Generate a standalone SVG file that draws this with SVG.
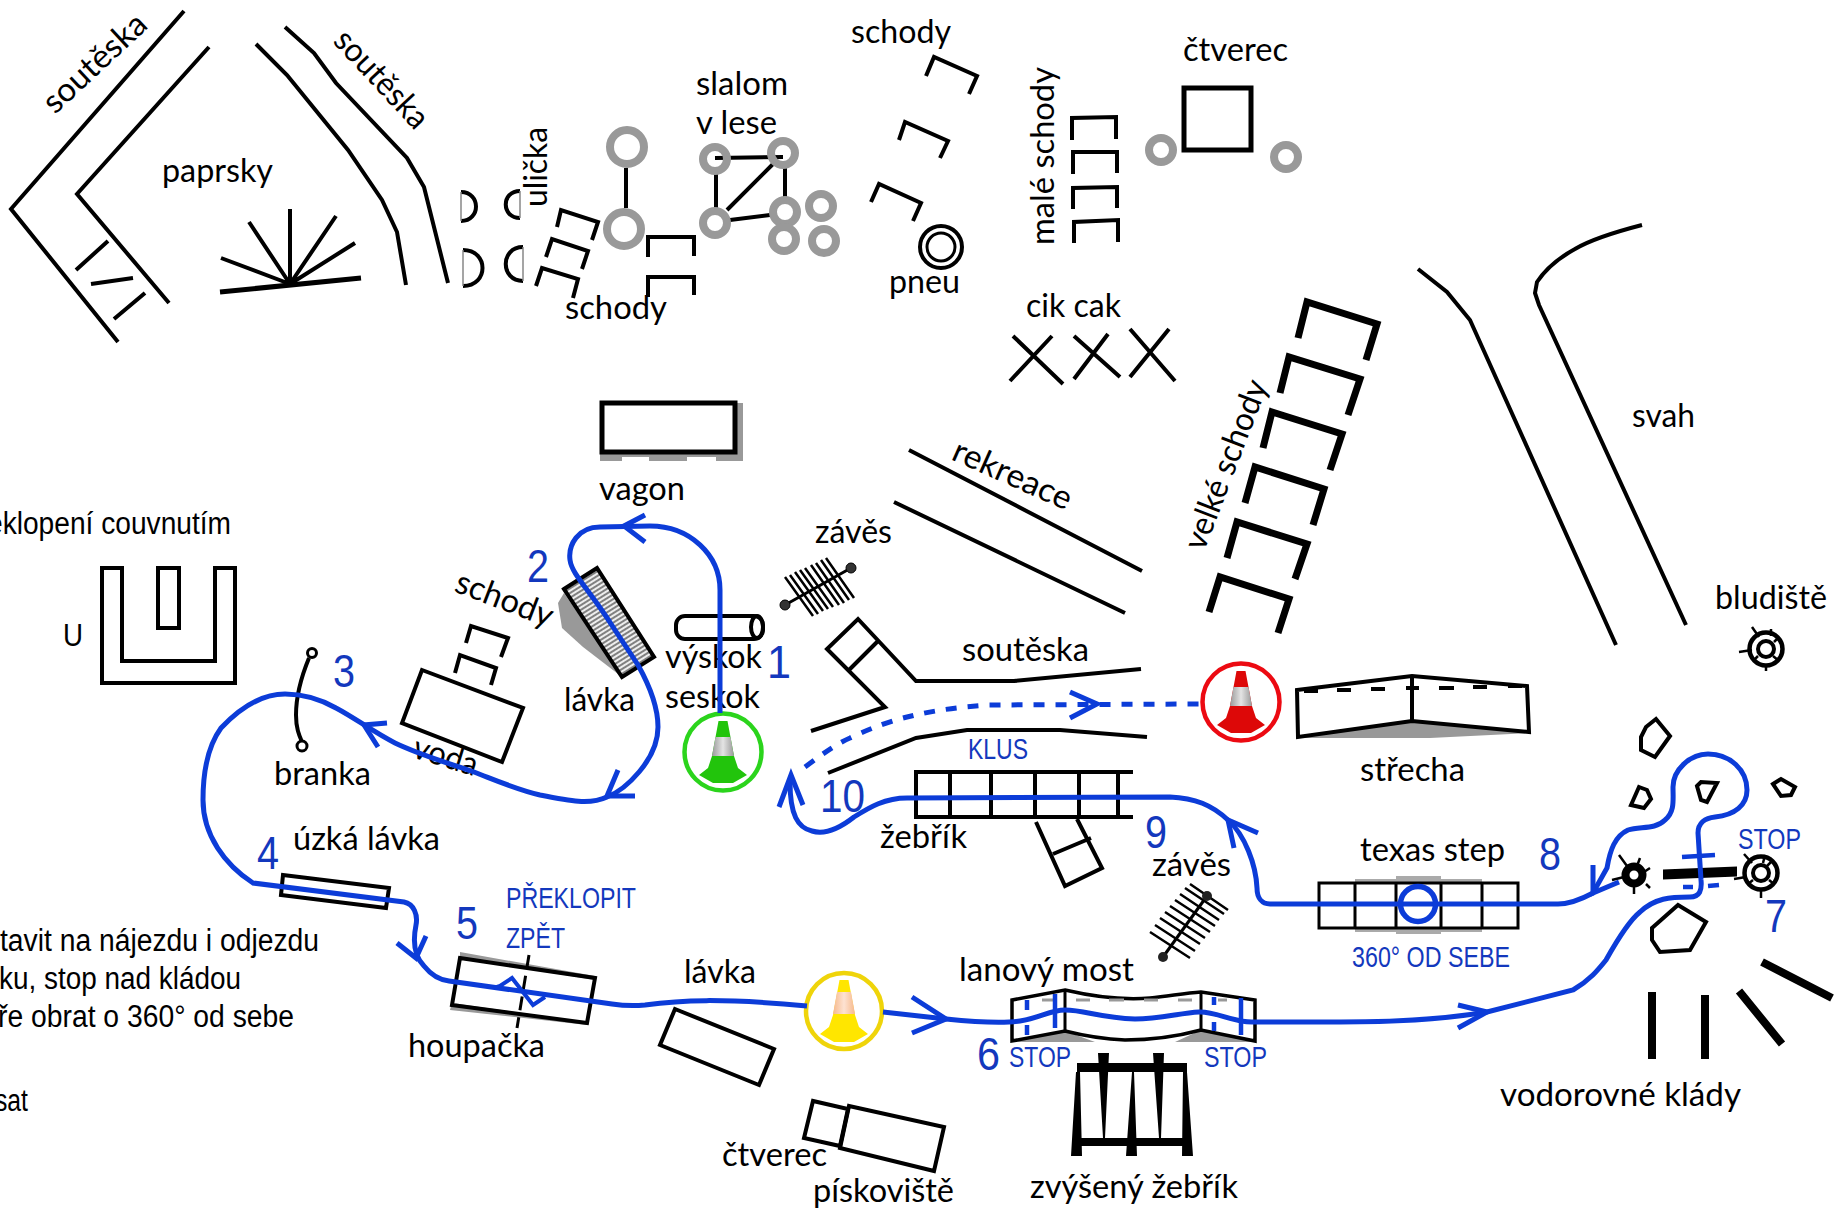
<svg xmlns="http://www.w3.org/2000/svg" width="1835" height="1210" viewBox="0 0 1835 1210">
<style>
.l{fill:none;stroke:#000;stroke-width:4;stroke-linejoin:miter}
.th{fill:none;stroke:#000;stroke-width:3}
.h{fill:none;stroke:#000;stroke-width:7}
.w{fill:#fff;stroke:#000;stroke-width:4}
.g{fill:none;stroke:#999;stroke-width:8}
.t{font-family:"Lato","Carlito",sans-serif;font-size:33px;fill:#000}
.a{font-family:"Liberation Sans",Arial,sans-serif;font-size:31px;fill:#000}
.b{font-family:"Liberation Sans",Arial,sans-serif;font-size:29px;fill:#1338bd}
.n{font-family:"Liberation Sans",Arial,sans-serif;font-size:46px;fill:#1338bd}
.r{fill:none;stroke:#0c3cd8;stroke-width:5;stroke-linecap:butt}
.rt{fill:none;stroke:#0c3cd8;stroke-width:4}
</style>
<defs>
<pattern id="hatch" patternUnits="userSpaceOnUse" width="4" height="4" patternTransform="rotate(-32)"><rect width="4" height="4" fill="#eee"/><rect width="4" height="2" fill="#808080"/></pattern>
<linearGradient id="band"><stop offset="0" stop-color="#999"/><stop offset=".5" stop-color="#e4e4e4"/><stop offset="1" stop-color="#999"/></linearGradient>
<linearGradient id="bandY"><stop offset="0" stop-color="#f6b98c"/><stop offset=".5" stop-color="#fde2d2"/><stop offset="1" stop-color="#f6b98c"/></linearGradient>
<path id="cone" d="M-4.500,-31L4.500,-31L11,4L15,16L24,23L10,31L-10,31L-24,23L-15,16L-11,4Z"/>
</defs>
<rect width="1835" height="1210" fill="#fff"/>

<g id="soutska-left"><path class="l" d="M184,11L11,209L118,342"/><path class="l" d="M209,47L77,194L169,303"/><path class="l" d="M108,241L76,270M91,284L133,278M145,293L114,319"/><text class="t" transform="translate(55,115) rotate(-43)" textLength="129" lengthAdjust="spacingAndGlyphs">soutěska</text></g>
<g id="paprsky"><path class="l" d="M220,292L361,278" style="stroke-width:5"/><path class="l" d="M290,284L221,258M290,284L249,222M290,284L290,209M290,284L336,216M290,284L355,243"/><text class="t" x="162" y="182" textLength="111" lengthAdjust="spacingAndGlyphs">paprsky</text></g>
<g id="soutska-right"><path class="l" d="M256,44L287,75L348,150L382,200L397,232L406,285"/><path class="l" d="M285,27L314,53L336,83L407,158L424,187L448,283"/><text class="t" transform="translate(332,42) rotate(47)" textLength="122" lengthAdjust="spacingAndGlyphs">soutěska</text></g>
<g id="ulicka"><path class="l" d="M461,192C481,192 481,221 461,221"/><path class="l" d="M463,250C489,250 489,286 463,286"/><path class="l" d="M520,191C501,191 501,218 520,218"/><path class="l" d="M523,247C500,247 500,281 523,281"/><path d="M461,192V221M463,250V286M520,191V218M523,247V281" fill="none" stroke="#888" stroke-width="1.500"/><text class="t" transform="translate(547,207) rotate(-90)" textLength="80" lengthAdjust="spacingAndGlyphs">ulička</text></g>
<g id="schody-a"><path class="l" d="M557,227L561,210L598,222L592,240M546,257L552,239L588,251L582,269M536,286L542,268L578,279L573,298"/><path class="l" d="M648,257V237H694V256M648,297V277H694V295"/><text class="t" x="565" y="319" textLength="102" lengthAdjust="spacingAndGlyphs">schody</text></g>
<g id="slalom"><path class="l" d="M626,168V208M715,158L783,157M716,173V208M727,210L774,163M785,167V197M730,220L770,215"/>
<circle class="g" cx="627" cy="147" r="17"/><circle class="g" cx="624" cy="229" r="17"/>
<circle class="g" cx="715" cy="159" r="12"/><circle class="g" cx="783" cy="153" r="12"/><circle class="g" cx="715" cy="223" r="12"/><circle class="g" cx="785" cy="212" r="12"/><circle class="g" cx="784" cy="239" r="12"/><circle class="g" cx="821" cy="206" r="12"/><circle class="g" cx="824" cy="241" r="12"/>
<text class="t" x="696" y="95" textLength="92" lengthAdjust="spacingAndGlyphs">slalom</text><text class="t" x="696" y="134" textLength="81" lengthAdjust="spacingAndGlyphs">v lese</text></g>
<g id="schody-b"><path class="l" d="M926,76L934,57L977,76L969,94M899,140L905,122L948,141L940,158M871,202L879,184L921,203L913,221"/><text class="t" x="851" y="43" textLength="100" lengthAdjust="spacingAndGlyphs">schody</text></g>
<g id="pneu"><circle class="l" cx="941" cy="247" r="21"/><circle class="th" cx="941" cy="247" r="14"/><text class="t" x="889" y="293" textLength="71" lengthAdjust="spacingAndGlyphs">pneu</text></g>
<g id="male-schody"><path class="l" d="M1072,140V118L1116,117V139M1073,174V152L1117,152V173M1073,209V188L1117,187V208M1074,243V222L1118,220V242"/><text class="t" transform="translate(1054,245) rotate(-90)" textLength="178" lengthAdjust="spacingAndGlyphs">malé schody</text></g>
<g id="ctverec"><rect class="l" x="1184" y="88" width="67" height="62" style="stroke-width:5"/><circle class="g" cx="1161" cy="150" r="12"/><circle class="g" cx="1286" cy="157" r="12"/><text class="t" x="1183" y="61" textLength="105" lengthAdjust="spacingAndGlyphs">čtverec</text></g>
<g id="cikcak"><path class="l" d="M1013,336L1063,384M1052,336L1010,381M1074,336L1120,377M1108,334L1074,379M1130,329L1175,381M1169,329L1130,377"/><text class="t" x="1026" y="317" textLength="95" lengthAdjust="spacingAndGlyphs">cik cak</text></g>
<g id="velke-schody"><path class="h" d="M1298,338L1307,302L1377,324L1366,360M1280,393L1289,357L1360,379L1348,415M1263,448L1272,412L1342,434L1330,470M1245,503L1255,467L1324,489L1313,525M1227,558L1237,522L1307,544L1295,579M1209,612L1220,577L1289,599L1278,633"/><text class="t" transform="translate(1204,552) rotate(-69)" textLength="179" lengthAdjust="spacingAndGlyphs">velké schody</text></g>
<g id="svah"><path class="l" d="M1418,269L1447,292L1470,320L1616,645"/><path class="l" d="M1642,225C1615,232 1590,240 1575,249C1555,260 1545,270 1537,282L1535,293L1539,305L1686,625"/><text class="t" x="1632" y="427" textLength="63" lengthAdjust="spacingAndGlyphs">svah</text></g>
<g id="rekreace"><path class="l" d="M909,450L1142,571M894,502L1125,613"/><text class="t" transform="translate(950,459) rotate(24)" textLength="127" lengthAdjust="spacingAndGlyphs">rekreace</text></g>
<g id="vagon"><path d="M735,403H743V461H716V457H687V461H649V457H622V461H600V452H735Z" fill="#999"/><rect class="l" x="602" y="403" width="133" height="49" style="stroke-width:5"/><text class="t" x="599" y="500" textLength="86" lengthAdjust="spacingAndGlyphs">vagon</text></g>
<g id="zaves-a"><path class="th" d="M785,605L851,568"/><path class="th" d="M785,577L813,616M790,575L818,614M795,572L823,611M800,570L828,609M805,568L833,607M811,565L839,605M816,563L844,603M821,560L849,600M826,558L854,598" style="stroke-width:2.500"/><circle cx="785" cy="605" r="5" stroke="#000" fill="#333"/><circle cx="851" cy="568" r="5" stroke="#000" fill="#333"/><text class="t" x="815" y="543" textLength="77" lengthAdjust="spacingAndGlyphs">závěs</text></g>
<g id="soutska-mid"><path class="l" d="M877,642L849,670M811,731L885,707L827,649L858,619L916,681L1014,681L1141,669"/><path class="l" d="M828,773L916,738L967,730L1060,730L1147,737"/><text class="t" x="962" y="661" textLength="127" lengthAdjust="spacingAndGlyphs">soutěska</text></g>
<g id="vyskok"><rect class="l" x="676" y="616" width="87" height="23" rx="9"/><ellipse class="l" cx="757" cy="627" rx="6" ry="11"/><text class="t" x="665" y="668" textLength="97" lengthAdjust="spacingAndGlyphs">výskok</text><text class="t" x="665" y="708" textLength="95" lengthAdjust="spacingAndGlyphs">seskok</text></g>
<g id="lavka-sikma"><path d="M564,593L558,603L562,628L583,647L622,677Z" fill="#999"/><path d="M564,589L597,568L654,657L622,677Z" fill="url(#hatch)" stroke="#000" stroke-width="4"/><text class="t" x="564" y="711" textLength="71" lengthAdjust="spacingAndGlyphs">lávka</text></g>
<g id="schody-c"><path class="l" d="M466,643L471,626L508,638L501,657M455,673L460,655L496,668L491,685"/><text class="t" transform="translate(453,591) rotate(21)" textLength="102" lengthAdjust="spacingAndGlyphs">schody</text></g>
<g id="voda"><path class="w" d="M422,670L523,708L502,762L402,723Z"/><text class="t" transform="translate(411,757) rotate(17)" textLength="66" lengthAdjust="spacingAndGlyphs">voda</text></g>
<g id="u"><path class="l" d="M102,568H122V661H215V568H235V683H102Z"/><rect class="l" x="158" y="568" width="21" height="60"/><text class="a" x="63" y="646" textLength="20" lengthAdjust="spacingAndGlyphs">U</text></g>
<g id="preklopeni"><text class="a" x="-13" y="534" textLength="244" lengthAdjust="spacingAndGlyphs">eklopení couvnutím</text></g>
<g id="branka"><path class="l" d="M309,658C302,675 296,695 296,715C296,728 299,735 302,742"/><circle cx="312" cy="653" r="4.500" fill="#fff" stroke="#000" stroke-width="3"/><circle cx="302" cy="746" r="5" fill="#fff" stroke="#000" stroke-width="3"/><text class="t" x="274" y="785" textLength="97" lengthAdjust="spacingAndGlyphs">branka</text></g>
<g id="uzka-lavka"><path class="l" d="M283,875L389,888L386,908L281,895Z"/><text class="t" x="293" y="850" textLength="147" lengthAdjust="spacingAndGlyphs">úzká lávka</text></g>
<g id="poznamky"><text class="a" x="0" y="951" textLength="319" lengthAdjust="spacingAndGlyphs">tavit na nájezdu i odjezdu</text><text class="a" x="-1" y="989" textLength="242" lengthAdjust="spacingAndGlyphs">ku, stop nad kládou</text><text class="a" x="-2" y="1027" textLength="296" lengthAdjust="spacingAndGlyphs">ře obrat o 360° od sebe</text><text class="a" x="-5" y="1111" textLength="33" lengthAdjust="spacingAndGlyphs">sat</text></g>
<g id="houpacka"><path d="M460,952L595,976L595,980L460,958ZM450,1010L452,1003L587,1022L587,1025Z" fill="#999"/><path class="l" d="M460,958L595,978L587,1023L452,1005Z"/><path class="th" d="M529,955L517,1028" stroke-dasharray="14 7"/><text class="t" x="408" y="1057" textLength="137" lengthAdjust="spacingAndGlyphs">houpačka</text></g>
<g id="lavka-dolni"><path class="l" d="M675,1009L774,1049L759,1085L660,1045Z"/><text class="t" x="684" y="983" textLength="72" lengthAdjust="spacingAndGlyphs">lávka</text></g>
<g id="piskoviste"><path class="l" d="M813,1101L804,1138L840,1146L848,1109Z"/><path class="l" d="M849,1106L944,1127L934,1171L840,1148Z"/><text class="t" x="722" y="1166" textLength="105" lengthAdjust="spacingAndGlyphs">čtverec</text><text class="t" x="813" y="1202" textLength="141" lengthAdjust="spacingAndGlyphs">pískoviště</text></g>
<g id="lanovy-most"><path d="M1012,1042L1065,1031L1095,1042ZM1175,1042L1201,1030L1255,1042Z" fill="#999"/><path class="l" d="M1012,1000L1065,990C1095,997 1125,1000 1150,998C1170,996 1185,993 1201,992L1255,1000V1041L1201,1030C1175,1037 1150,1040 1125,1040C1100,1039 1085,1036 1065,1031L1012,1041Z" style="stroke-width:3.500"/><path class="th" d="M1065,990V1031M1201,992V1030"/><path d="M1042,1000H1054M1076,1000H1090M1109,1000H1124M1144,1000H1158M1178,1000H1192M1218,1000H1227" stroke="#999" stroke-width="3" fill="none"/><text class="t" x="959" y="981" textLength="175" lengthAdjust="spacingAndGlyphs">lanový most</text></g>
<g id="zvyseny-zebrik"><path d="M1077,1063H1187V1072H1077ZM1077,1138H1187V1146H1077ZM1098,1053H1109L1105,1138H1103ZM1153,1053H1164L1161,1138H1159ZM1076,1072H1080L1082,1156H1071ZM1183,1072H1187L1193,1156H1182ZM1132,1072H1134L1137,1156H1126Z" fill="#000"/><text class="t" x="1030" y="1198" textLength="208" lengthAdjust="spacingAndGlyphs">zvýšený žebřík</text></g>
<g id="zebrik"><path class="l" d="M1133,772H916V817H1133M950,772V817M991,772V817M1035,772V817M1079,772V817M1118,772V817"/><path class="l" d="M1036,822L1065,886L1102,868L1077,819M1053,854L1091,838"/><text class="t" x="880" y="848" textLength="87" lengthAdjust="spacingAndGlyphs">žebřík</text></g>
<g id="zaves-b"><path class="th" d="M1163,957L1207,896"/><path class="th" d="M1150,932L1190,958M1155,925L1195,951M1160,918L1200,944M1165,912L1205,938M1170,906L1210,932M1175,900L1215,926M1180,894L1219,920M1185,888L1224,914M1190,884L1228,910" style="stroke-width:2.500"/><circle cx="1163" cy="957" r="5" fill="#222"/><circle cx="1207" cy="896" r="5" fill="#222"/><text class="t" x="1152" y="876" textLength="79" lengthAdjust="spacingAndGlyphs">závěs</text></g>
<g id="strecha"><path d="M1298,738L1412,721L1529,733L1430,738Z" fill="#999"/><path class="l" d="M1297,690L1412,676L1527,686L1529,732L1412,721L1298,737Z"/><path class="l" d="M1412,676V721"/><path d="M1304,691H1318M1337,690H1351M1371,689H1385M1406,688H1419M1439,688H1454M1473,687H1487M1508,686H1522" stroke="#000" stroke-width="4" fill="none"/><text class="t" x="1360" y="781" textLength="105" lengthAdjust="spacingAndGlyphs">střecha</text></g>
<g id="texas-step"><rect x="1355" y="879" width="127" height="53" fill="#aaa"/><rect x="1396" y="876" width="45" height="58" fill="#aaa"/><rect x="1319" y="883" width="199" height="45" fill="#fff" stroke="#000" stroke-width="3"/><path class="th" d="M1355,883V928M1396,883V928M1441,883V928M1482,883V928"/><text class="t" x="1360" y="861" textLength="145" lengthAdjust="spacingAndGlyphs">texas step</text></g>
<g id="kameny"><path class="l" d="M1656,719L1670,736L1655,757L1641,750L1641,737L1646,727Z"/><path class="l" d="M1639,787L1647,790L1651,799L1644,808L1631,805Z"/><path class="l" d="M1697,786L1701,782L1717,783L1707,802L1701,800Z"/><path class="l" d="M1773,784L1781,779L1795,787L1791,795L1781,796Z"/><path class="l" d="M1652,928L1678,905L1706,922L1690,950L1660,952L1652,940Z"/></g>
<g id="tyre-a"><circle cx="1634" cy="875" r="8.500" fill="#fff" stroke="#000" stroke-width="8"/><path class="th" d="M1619,855L1627,866M1640,858L1637,866M1650,868L1644,872M1612,880L1624,877M1634,884V894M1646,884L1650,888" style="stroke-width:2.500"/></g>
<g id="tyre-b"><circle class="l" cx="1761" cy="873" r="16.500" style="stroke-width:4.500"/><circle class="l" cx="1761" cy="873" r="8"/><path class="th" d="M1744,854L1752,863M1765,855L1763,863M1734,879L1746,877M1761,889V898M1767,866L1773,860M1753,880L1748,884M1769,880L1774,884" style="stroke-width:2.500"/></g>
<g id="bar"><path d="M1663,869.500L1737,866.500V876.500L1663,879.500Z" fill="#000"/></g>
<g id="bludiste"><circle class="l" cx="1766" cy="649" r="16.500" style="stroke-width:4.500"/><circle class="l" cx="1766" cy="649" r="8"/><path class="th" d="M1752,627L1759,637M1739,652L1752,650M1766,665V671M1771,629V636M1773,656L1779,661M1774,642L1779,637M1758,656L1753,661" style="stroke-width:2.500"/><text class="t" x="1715" y="609" textLength="112" lengthAdjust="spacingAndGlyphs">bludiště</text></g>
<g id="klady"><path d="M1652,992V1059M1705,995V1059M1739,991L1782,1044M1762,962L1832,998" stroke="#000" stroke-width="8" fill="none"/><text class="t" x="1500" y="1106" textLength="241" lengthAdjust="spacingAndGlyphs">vodorovné klády</text></g>

<g id="kuzel-zeleny" transform="translate(723,752)"><circle r="38.500" fill="#fff" stroke="#2bd41c" stroke-width="4.500"/><use href="#cone" fill="#22c40c"/><path d="M-7.500,-15L7.500,-15L11,4L-11,4Z" fill="url(#band)"/></g>
<g id="kuzel-zluty" transform="translate(844,1011)"><circle r="38" fill="#fff" stroke="#efd40a" stroke-width="4.500"/><use href="#cone" fill="#ffe600"/><path d="M-7,-19L7,-19L11,3L-11,3Z" fill="url(#bandY)"/></g>
<g id="kuzel-cerveny" transform="translate(1241,702)"><circle r="38.500" fill="#fff" stroke="#ec0a12" stroke-width="4.500"/><use href="#cone" fill="#dd0808"/><path d="M-7.500,-15L7.500,-15L11,4L-11,4Z" fill="url(#band)"/></g>

<g id="connectors">
<path class="r" d="M720,713L720,590C720,555 690,526 650,526L600,527C578,527 568,545 570,560C572,575 590,590 613,627L638,665C652,690 658,710 658,727C658,760 625,790 607,797C590,805 570,801 540,795C515,789 495,780 474,772C445,762 420,755 395,743C375,733 355,718 336,708C320,699 305,694 285,694C262,694 240,708 221,728C205,750 203,780 203,800C203,835 225,865 253,883L404,902C414,904 418,915 416,925C412,945 416,958 424,966C432,976 440,980 449,981L612,1004C625,1006 635,1006 645,1005C680,1000 720,998 807,1006"/>
<path class="r" d="M883,1012L946,1019C975,1022 1000,1024 1020,1021C1040,1018 1050,1010 1065,1010C1085,1010 1100,1018 1135,1019C1160,1019 1180,1013 1199,1012C1215,1011 1232,1022 1252,1022L1340,1022C1390,1022 1440,1020 1487,1012L1573,990C1590,980 1598,970 1606,960C1620,935 1630,920 1640,912C1655,898 1670,897 1690,897C1700,897 1702,890 1701,880L1698,833C1698,823 1705,818 1715,817C1735,815 1747,805 1747,790C1747,770 1730,754 1708,754C1690,754 1673,770 1673,787C1673,800 1675,812 1665,820C1655,830 1640,826 1628,830C1615,836 1610,850 1607,868L1593,893C1580,900 1570,904 1558,904L1270,904C1262,904 1257,898 1257,888C1256,865 1245,835 1228,820C1212,805 1195,798 1170,797L907,798C885,798 870,807 854,817C840,828 825,835 812,831C798,828 790,815 790,782"/>
<path class="r" d="M805,767C825,752 840,742 850,738C875,726 895,720 907,717C935,710 960,707 989,705L1201,704" stroke-dasharray="11 11"/>
<path class="r" d="M645,515L624,526L645,542"/>
<path class="r" d="M618,770L607,796H635"/>
<path class="r" d="M387,723L364,725L378,747"/>
<path class="r" d="M397,943L416,958L426,936"/>
<path class="r" d="M912,997L946,1019L912,1033"/>
<path class="r" d="M1458,1005L1487,1012L1458,1028"/>
<path class="r" d="M1593,865V893L1619,882"/>
<path class="r" d="M1234,848L1228,820L1258,833"/>
<path class="r" d="M779,807L791,775L803,805"/>
<path class="r" d="M1070,692L1097,704L1070,718"/>
<path class="rt" d="M494,988L500,986L512,978L533,1005L545,997"/>
<path class="rt" d="M1027,1000V1010M1027,1025V1035M1055,994V1028M1214,997V1005M1214,1022V1031M1241,998V1035" style="stroke-width:4.500"/>
<path class="rt" d="M1682,857L1715,855M1683,887H1693M1708,886L1719,885" style="stroke-width:4.500"/>
<circle class="r" cx="1418" cy="904" r="17.500" style="stroke-width:5.500"/>
</g>

<g id="labels-blue">
<text class="n" x="767" y="678" textLength="24" lengthAdjust="spacingAndGlyphs">1</text>
<text class="n" x="527" y="582" textLength="22" lengthAdjust="spacingAndGlyphs">2</text>
<text class="n" x="333" y="687" textLength="22" lengthAdjust="spacingAndGlyphs">3</text>
<text class="n" x="257" y="869" textLength="22" lengthAdjust="spacingAndGlyphs">4</text>
<text class="n" x="456" y="939" textLength="22" lengthAdjust="spacingAndGlyphs">5</text>
<text class="n" x="977" y="1070" textLength="23" lengthAdjust="spacingAndGlyphs">6</text>
<text class="n" x="1765" y="932" textLength="22" lengthAdjust="spacingAndGlyphs">7</text>
<text class="n" x="1539" y="870" textLength="22" lengthAdjust="spacingAndGlyphs">8</text>
<text class="n" x="1145" y="848" textLength="22" lengthAdjust="spacingAndGlyphs">9</text>
<text class="n" x="820" y="812" textLength="45" lengthAdjust="spacingAndGlyphs">10</text>
<text class="b" x="506" y="908" textLength="130" lengthAdjust="spacingAndGlyphs">PŘEKLOPIT</text>
<text class="b" x="506" y="948" textLength="59" lengthAdjust="spacingAndGlyphs">ZPĚT</text>
<text class="b" x="968" y="759" textLength="60" lengthAdjust="spacingAndGlyphs">KLUS</text>
<text class="b" x="1352" y="967" textLength="158" lengthAdjust="spacingAndGlyphs">360° OD SEBE</text>
<text class="b" x="1009" y="1067" textLength="62" lengthAdjust="spacingAndGlyphs">STOP</text>
<text class="b" x="1204" y="1067" textLength="63" lengthAdjust="spacingAndGlyphs">STOP</text>
<text class="b" x="1738" y="849" textLength="63" lengthAdjust="spacingAndGlyphs">STOP</text>
</g>
</svg>
